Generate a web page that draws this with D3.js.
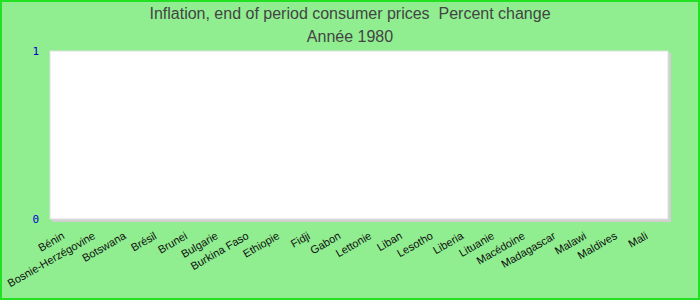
<!DOCTYPE html>
<html>
<head>
<meta charset="utf-8">
<script src="https://cdn.jsdelivr.net/npm/d3@7/dist/d3.min.js"></script>
<style>
html,body{margin:0;padding:0;background:#90EE90;}
svg{display:block;}
text.title{white-space:pre;}
</style>
</head>
<body>
<svg id="chart" width="700" height="300"></svg>
<script>
const titleLines = ["Inflation, end of period consumer prices  Percent change", "Année 1980"];
const categories = ["Bénin","Bosnie-Herzégovine","Botswana","Brésil","Brunei","Bulgarie","Burkina Faso","Ethiopie","Fidji","Gabon","Lettonie","Liban","Lesotho","Liberia","Lituanie","Macédoine","Madagascar","Malawi","Maldives","Mali"];
const values = [0,0,0,0,0,0,0,0,0,0,0,0,0,0,0,0,0,0,0,0];
const yTicks = [0, 1];

const W = 700, H = 300;
const plot = {left: 50, top: 51, right: 668, bottom: 219};
const svg = d3.select("#chart");

svg.append("rect").attr("x",0).attr("y",0).attr("width",W).attr("height",H).attr("fill","#90EE90");
svg.append("rect").attr("x",1).attr("y",1).attr("width",W-2).attr("height",H-2)
  .attr("fill","none").attr("stroke","#22e022").attr("stroke-width",2);

const x = d3.scaleBand().domain(categories).range([plot.left, plot.right + 2]).padding(0.2);
const y = d3.scaleLinear().domain([0, 1]).range([plot.bottom, plot.top]);

// plot area with shadow
svg.append("rect").attr("x",plot.left+2).attr("y",plot.top+2)
  .attr("width",plot.right-plot.left+1).attr("height",plot.bottom-plot.top+1).attr("fill","#d0d0d0");
svg.append("rect").attr("x",plot.left).attr("y",plot.top)
  .attr("width",plot.right-plot.left).attr("height",plot.bottom-plot.top)
  .attr("fill","#ffffff").attr("stroke","#e0e0e0").attr("stroke-width",1);

// titles
svg.selectAll("text.title").data(titleLines).enter().append("text")
  .attr("class","title")
  .attr("xml:space","preserve")
  .attr("x", W/2).attr("y",(d,i)=>19 + i*23)
  .attr("text-anchor","middle")
  .attr("font-family","'Liberation Sans', Arial, sans-serif")
  .attr("font-size","16px").attr("fill","#444444")
  .text(d=>d);

// bars
svg.append("g").selectAll("rect").data(values).enter().append("rect")
  .attr("x",(d,i)=>x(categories[i]))
  .attr("width",x.bandwidth())
  .attr("y",d=>y(d))
  .attr("height",d=>y(0)-y(d))
  .attr("fill","#4f81bd");

// y axis
const yAxis = d3.axisLeft(y).tickValues(yTicks).tickFormat(d3.format("d")).tickSize(0).tickPadding(0);
const gy = svg.append("g").attr("transform",`translate(${plot.left - 11},0)`).call(yAxis);
gy.select(".domain").remove();
gy.selectAll("text").attr("font-family","'DejaVu Sans Mono', monospace").attr("font-size","11px")
  .attr("fill","#0000cc").attr("dy","0.35em");

// x axis labels
const xAxis = d3.axisBottom(x).tickSize(0).tickPadding(0);
const gx = svg.append("g").call(xAxis);
gx.select(".domain").remove();
gx.selectAll(".tick").attr("transform", d => `translate(${x(d) + x.bandwidth()/2 - 3},238)`);
gx.selectAll(".tick text")
  .attr("x",0).attr("y",0).attr("dy",0)
  .attr("text-anchor","end")
  .attr("transform","rotate(-30)")
  .attr("font-family","'Liberation Sans', Arial, sans-serif")
  .attr("font-size","11px").attr("fill","#111111");
</script>
</body>
</html>
